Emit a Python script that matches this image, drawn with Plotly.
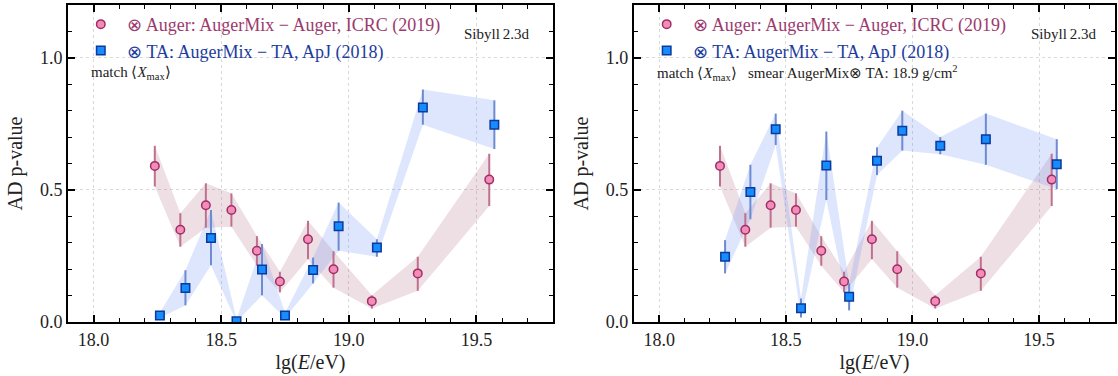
import plotly.graph_objects as go

# ---- data -------------------------------------------------------------
# Auger (AugerMix - Auger, ICRC 2019): same in both panels
auger_lgE = [18.24, 18.34, 18.44, 18.54, 18.64, 18.73, 18.84, 18.94, 19.09, 19.27, 19.55]
auger_p = [0.591, 0.349, 0.442, 0.424, 0.270, 0.153, 0.313, 0.200, 0.079, 0.184, 0.539]
auger_hi = [0.667, 0.412, 0.525, 0.487, 0.325, 0.190, 0.383, 0.268, 0.101, 0.247, 0.637]
auger_lo = [0.513, 0.285, 0.357, 0.361, 0.213, 0.112, 0.238, 0.130, 0.051, 0.118, 0.439]

# TA (AugerMix - TA, ApJ 2018)
ta_lgE = [18.26, 18.36, 18.46, 18.56, 18.66, 18.75, 18.86, 18.96, 19.11, 19.29, 19.57]

# left panel: match <Xmax>
ta_p_match = [0.025, 0.129, 0.318, 0.003, 0.199, 0.025, 0.197, 0.362, 0.282, 0.812, 0.747]
ta_hi_match = [0.035, 0.196, 0.424, 0.010, 0.295, 0.035, 0.244, 0.452, 0.313, 0.880, 0.839]
ta_lo_match = [0.015, 0.063, 0.215, 0.000, 0.101, 0.015, 0.146, 0.270, 0.247, 0.747, 0.655]

# right panel: match <Xmax> + smearing 18.9 g/cm2
ta_p_smear = [0.247, 0.492, 0.730, 0.052, 0.592, 0.096, 0.610, 0.724, 0.667, 0.692, 0.597]
ta_hi_smear = [0.310, 0.595, 0.789, 0.089, 0.721, 0.146, 0.661, 0.800, 0.700, 0.789, 0.692]
ta_lo_smear = [0.184, 0.389, 0.670, 0.017, 0.462, 0.044, 0.556, 0.649, 0.635, 0.595, 0.503]

x_ticks = [18.0, 18.5, 19.0, 19.5]
y_ticks = [0.0, 0.5, 1.0]

AUGER_NAME = "⊗ Auger: AugerMix − Auger, ICRC (2019)"
TA_NAME = "⊗ TA: AugerMix − TA, ApJ (2018)"

# ---- style ------------------------------------------------------------
SERIF = "Liberation Serif"
AUGER_FILL = "#f48cb8"
AUGER_EDGE = "#9e2f66"
AUGER_BAR = "#c0708f"
AUGER_BAND = "rgba(170, 95, 125, 0.20)"
AUGER_TEXT = "#9c3a6e"
TA_FILL = "#168cff"
TA_EDGE = "#0b3a9c"
TA_BAR = "#6d8bd0"
TA_BAND = "rgba(110, 145, 245, 0.23)"
TA_TEXT = "#1c3c9e"

fig = go.Figure()


def band(x, lo, hi, color, xa, ya):
    fig.add_trace(go.Scatter(
        x=list(x) + list(x)[::-1], y=list(hi) + list(lo)[::-1],
        fill="toself", fillcolor=color, mode="none",
        hoverinfo="skip", showlegend=False, xaxis=xa, yaxis=ya))


def points(x, y, lo, hi, name, sym, fill, edge, bar, size, txtcolor, xa, ya, leg):
    fig.add_trace(go.Scatter(
        x=x, y=y, mode="markers",
        name=f"<span style='color:{txtcolor};font-family:{SERIF}'>{name}</span>",
        marker=dict(symbol=sym, size=size, color=fill, line=dict(color=edge, width=1.5)),
        error_y=dict(type="data", symmetric=False,
                     array=[h - v for h, v in zip(hi, y)],
                     arrayminus=[v - l for v, l in zip(y, lo)],
                     color=bar, thickness=2, width=0),
        xaxis=xa, yaxis=ya, legend=leg))


panels = [("x", "y", "legend", ta_p_match, ta_lo_match, ta_hi_match),
          ("x2", "y2", "legend2", ta_p_smear, ta_lo_smear, ta_hi_smear)]
for xa, ya, leg, tp, tlo, thi in panels:
    band(auger_lgE, auger_lo, auger_hi, AUGER_BAND, xa, ya)
    band(ta_lgE, tlo, thi, TA_BAND, xa, ya)
    points(auger_lgE, auger_p, auger_lo, auger_hi, AUGER_NAME, "circle",
           AUGER_FILL, AUGER_EDGE, AUGER_BAR, 8.5, AUGER_TEXT, xa, ya, leg)
    points(ta_lgE, tp, tlo, thi, TA_NAME, "square",
           TA_FILL, TA_EDGE, TA_BAR, 8.5, TA_TEXT, xa, ya, leg)

axis_common = dict(
    showline=True, linecolor="black", linewidth=2, mirror="ticks",
    ticks="inside", ticklen=7, tickwidth=1.5, tickcolor="black",
    showgrid=True, gridcolor="#d9d9d9", griddash="dot", gridwidth=1,
    zeroline=False, tickfont=dict(family=SERIF, size=18, color="#222"),
    tickformat=".1f",
    minor=dict(ticks="inside", ticklen=4, tickwidth=1.2, tickcolor="black",
               dtick=0.1, showgrid=False),
)

x_common = dict(axis_common, range=[17.9, 19.8], tickvals=x_ticks,
                title=dict(text="lg(<i>E</i>/eV)", font=dict(family=SERIF, size=20, color="#222"),
                           standoff=6))
y_common = dict(axis_common, range=[0, 1.2], tickvals=y_ticks,
                title=dict(text="AD p-value", font=dict(family=SERIF, size=20, color="#222"),
                           standoff=12))

L_DOM = [0.0, 0.4633]
R_DOM = [0.5405, 1.0]

legend_common = dict(font=dict(family=SERIF, size=18), bgcolor="rgba(0,0,0,0)",
                     xanchor="left", yanchor="top", tracegroupgap=0,
                     itemsizing="trace", itemwidth=43)

fig.update_layout(
    width=1118, height=376,
    margin=dict(l=68, r=1, t=5, b=54),
    font=dict(family=SERIF, color="#222"),
    plot_bgcolor="white", paper_bgcolor="white",
    xaxis=dict(x_common, domain=L_DOM, anchor="y"),
    yaxis=dict(y_common, domain=[0, 1], anchor="x"),
    xaxis2=dict(x_common, domain=R_DOM, anchor="y2"),
    yaxis2=dict(y_common, domain=[0, 1], anchor="x2"),
    legend=dict(legend_common, x=0.006, y=0.997),
    legend2=dict(legend_common, x=R_DOM[0] + 0.006, y=0.997),
    showlegend=True,
)

note_font = dict(family=SERIF, size=15, color="#222")
annotations = [
    dict(text="Sibyll\u20092.3d", x=L_DOM[1] - 0.0205, y=0.91, xanchor="right"),
    dict(text="Sibyll\u20092.3d", x=R_DOM[1] - 0.0155, y=0.91, xanchor="right"),
    dict(text="match ⟨<i>X</i><sub>max</sub>⟩", x=0.02, y=0.785, xanchor="left"),
    dict(text="match ⟨<i>X</i><sub>max</sub>⟩   smear AugerMix⊗ TA: 18.9 g/cm<sup>2</sup>",
         x=R_DOM[0] + 0.02, y=0.785, xanchor="left"),
]
for a in annotations:
    fig.add_annotation(xref="paper", yref="paper", showarrow=False,
                       yanchor="middle", font=note_font, **a)

fig.write_html("out.html")
